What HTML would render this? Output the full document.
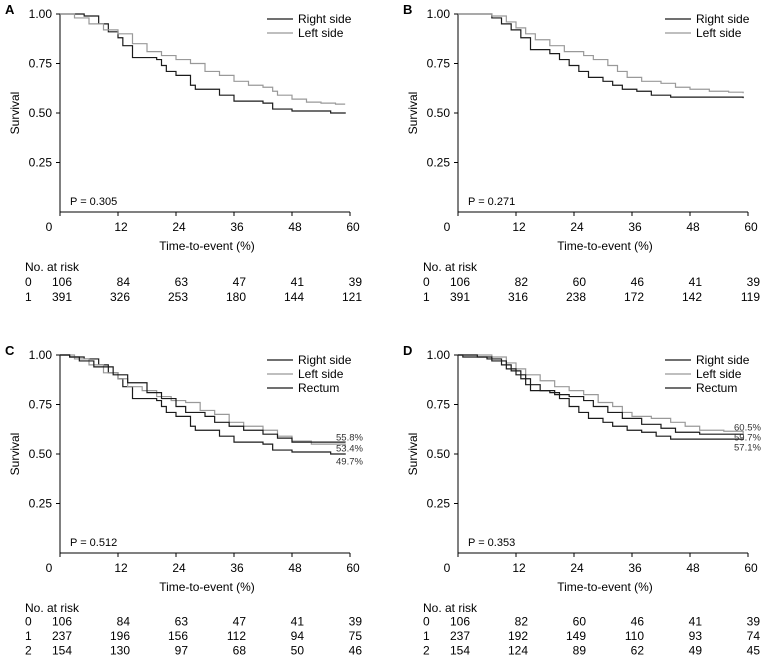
<!DOCTYPE html>
<html><head><meta charset="utf-8"><style>
body{margin:0;background:#fff;}
svg{display:block;font-family:"Liberation Sans",Arial,sans-serif;}
</style></head><body>
<svg id="fig" width="764" height="656" viewBox="0 0 764 656"></svg>
<script>
// ---- data ----
const xTicks=[0,12,24,36,48,60];
const yTicks=[0.25,0.50,0.75,1.00];
const yTickLabels=["0.25","0.50","0.75","1.00"];
const pValues=["P = 0.305","P = 0.271","P = 0.512","P = 0.353"];
const panelLetters=["A","B","C","D"];
const seriesNamesAB=["Right side","Left side"];
const seriesNamesCD=["Right side","Left side","Rectum"];
const aRight=[[0,1],[2,1],[5,.99],[8,.95],[10,.91],[12,.88],[13,.84],[15,.78],[20,.77],[21,.74],[22,.71],[24,.69],[27,.64],[28,.62],[33,.59],[36,.56],[42,.55],[44,.52],[48,.51],[56,.50],[59,.497]];
const aLeft=[[0,1],[3,.98],[6,.95],[9,.92],[12,.90],[15,.85],[18,.81],[21,.79],[24,.77],[27,.75],[30,.71],[33,.69],[36,.66],[39,.64],[42,.63],[44,.61],[45,.59],[48,.57],[51,.555],[54,.55],[57,.545],[59,.545]];
const bRight=[[0,1],[7,.98],[9,.95],[11,.92],[13,.88],[15,.82],[19,.80],[21,.77],[23,.74],[25,.71],[27,.68],[30,.66],[32,.64],[34,.62],[37,.61],[40,.59],[44,.58],[59,.575]];
const bLeft=[[0,1],[7,.99],[10,.96],[12,.93],[14,.90],[16,.87],[19,.84],[22,.81],[26,.79],[28,.77],[31,.74],[33,.71],[35,.68],[38,.66],[42,.65],[45,.63],[48,.62],[52,.61],[56,.605],[59,.60]];
const cRight=[[0,1],[2,.99],[5,.98],[8,.95],[10,.91],[12,.88],[13,.84],[15,.78],[20,.77],[21,.74],[22,.71],[24,.69],[27,.64],[28,.62],[33,.59],[36,.56],[42,.55],[44,.52],[48,.51],[56,.50],[59,.497]];
const cLeft=[[0,1],[3,.98],[6,.95],[9,.91],[12,.88],[14,.84],[17,.82],[20,.79],[23,.77],[26,.76],[29,.72],[32,.70],[35,.66],[38,.64],[42,.62],[45,.59],[48,.565],[52,.55],[59,.534]];
const cRectum=[[0,1],[2,.99],[4,.97],[7,.94],[11,.90],[14,.86],[18,.81],[21,.78],[24,.74],[26,.71],[30,.69],[32,.66],[35,.64],[38,.62],[42,.60],[45,.58],[48,.56],[59,.558]];
const dRight=[[0,1],[1,.99],[6,.98],[9,.95],[11,.92],[13,.88],[15,.82],[19,.81],[21,.78],[23,.74],[25,.71],[27,.68],[30,.66],[32,.64],[35,.62],[38,.61],[41,.59],[44,.575],[59,.571]];
const dLeft=[[0,1],[7,.99],[10,.96],[12,.93],[14,.90],[17,.87],[20,.84],[23,.82],[26,.80],[29,.76],[32,.74],[34,.71],[36,.69],[40,.68],[44,.66],[47,.64],[50,.62],[55,.615],[59,.605]];
const dRectum=[[0,1],[4,.99],[7,.97],[10,.93],[12,.90],[14,.85],[17,.82],[20,.80],[23,.79],[26,.77],[28,.74],[31,.71],[34,.68],[38,.65],[42,.63],[45,.61],[50,.60],[59,.597]];
const cEndLabels=["55.8%","53.4%","49.7%"];
const dEndLabels=["60.5%","59.7%","57.1%"];
const riskA=[["0",106,84,63,47,41,39],["1",391,326,253,180,144,121]];
const riskB=[["0",106,82,60,46,41,39],["1",391,316,238,172,142,119]];
const riskC=[["0",106,84,63,47,41,39],["1",237,196,156,112,94,75],["2",154,130,97,68,50,46]];
const riskD=[["0",106,82,60,46,41,39],["1",237,192,149,110,93,74],["2",154,124,89,62,49,45]];

const NS="http://www.w3.org/2000/svg";
const svg=document.getElementById('fig');
function el(tag,attrs,parent,text){const e=document.createElementNS(NS,tag);for(const k in attrs)e.setAttribute(k,attrs[k]);if(text!==undefined)e.textContent=text;(parent||svg).appendChild(e);return e;}
const BLACK="#1a1a1a",GRAY="#999";
const panels=[
 {ox:0,oy:0,series:[aRight,aLeft],cols:[BLACK,GRAY],names:seriesNamesAB,risk:riskA,rHead:271,rBase:286,rStep:15},
 {ox:398,oy:0,series:[bRight,bLeft],cols:[BLACK,GRAY],names:seriesNamesAB,risk:riskB,rHead:271,rBase:286,rStep:15},
 {ox:0,oy:341,series:[cRight,cLeft,cRectum],cols:[BLACK,GRAY,BLACK],names:seriesNamesCD,risk:riskC,ends:cEndLabels,endY:[437,448,461],rHead:271,rBase:284.5,rStep:14.5},
 {ox:398,oy:341,series:[dRight,dLeft,dRectum],cols:[BLACK,GRAY,BLACK],names:seriesNamesCD,risk:riskD,ends:dEndLabels,endY:[427,437,447],rHead:271,rBase:284.5,rStep:14.5}
];
panels.forEach((p,i)=>{
 const g=el('g',{transform:`translate(${p.ox},${p.oy})`});
 
 
 const X=t=>60+t/60*290, Y=s=>212-s*198;
 const lt=el('text',{x:5,y:14,'font-size':13,'font-weight':'bold',fill:'#000'},g,panelLetters[i]);
 
 const ax=el('path',{d:`M60,${Y(1)}V212H350`,stroke:'#000','stroke-width':1,fill:'none'},g);
 
 xTicks.forEach(t=>{
  el('line',{x1:X(t),x2:X(t),y1:212,y2:216,stroke:'#000'},g);
  const tx=el('text',{x:t===0?49:X(t)+3,y:231,'font-size':12,'text-anchor':'middle'},g,String(t));
  
 });
 yTicks.forEach((v,k)=>{
  el('line',{x1:56,x2:60,y1:Y(v),y2:Y(v),stroke:'#000'},g);
  const ty=el('text',{x:52,y:Y(v)+4,'font-size':12,'text-anchor':'end'},g,yTickLabels[k]);
  
 });
 const yt=el('text',{x:0,y:0,'font-size':12,'text-anchor':'middle',transform:'translate(19,113) rotate(-90)'},g,'Survival');
 
 const xt=el('text',{x:207,y:250,'font-size':12,'text-anchor':'middle'},g,'Time-to-event (%)');
 
 const pv=el('text',{x:70,y:205,'font-size':11},g,pValues[i]);
 
 p.series.forEach((s,k)=>{
  let d=`M${X(s[0][0])},${Y(s[0][1])}`;
  for(let j=1;j<s.length;j++){d+=`H${X(s[j][0])}V${Y(s[j][1])}`;}
  const c=el('path',{d:d,stroke:p.cols[k],'stroke-width':1.2,fill:'none'},g);
  
  
 });
 p.names.forEach((n,k)=>{
  const ly=19+k*14;
  const lg=el('g',{},g);
  
  el('line',{x1:267,x2:293,y1:ly,y2:ly,stroke:p.cols[k],'stroke-width':1.2},lg);
  el('text',{x:298,y:ly+4,'font-size':12},lg,n);
 });
 if(p.ends){p.ends.forEach((t,k)=>{
  const e=el('text',{x:336,y:p.endY[k]-p.oy+3.5,'font-size':9.5,fill:'#333'},g,t);
  
 });}
 const h=el('text',{x:25,y:p.rHead,'font-size':12},g,'No. at risk');
 
 p.risk.forEach((r,k)=>{
  const ry=p.rBase+k*p.rStep;
  const rl=el('text',{x:25,y:ry,'font-size':12},g,r[0]);
  
  for(let j=1;j<r.length;j++){
   const t=xTicks[j-1];
   const v=el('text',{x:X(t)+12,y:ry,'font-size':12,'text-anchor':'end'},g,String(r[j]));
   
  }
 });
});
</script>
</body></html>
